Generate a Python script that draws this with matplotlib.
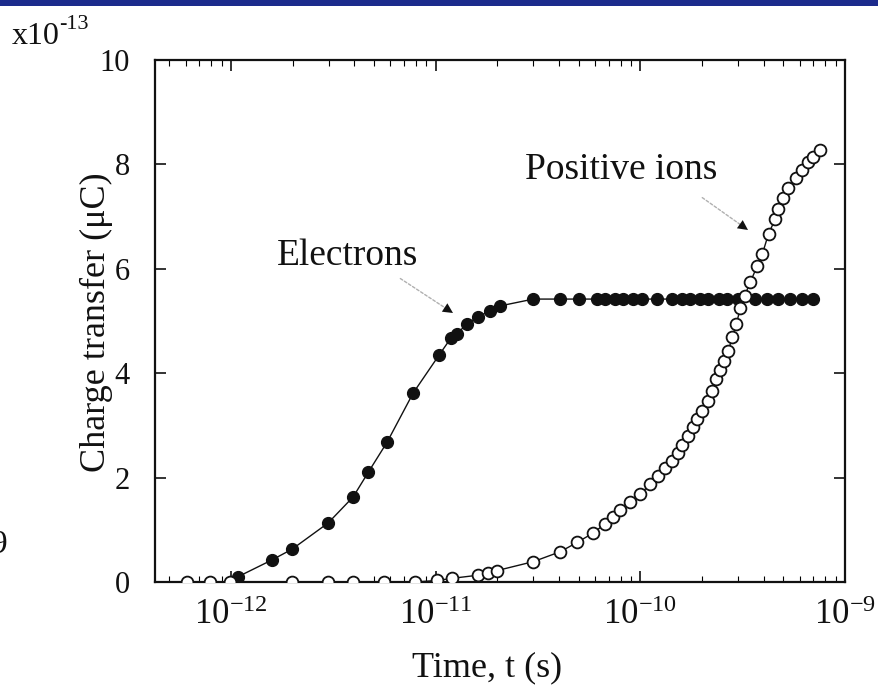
import matplotlib
matplotlib.use("Agg")
import matplotlib.pyplot as plt
from matplotlib.patches import Rectangle
from matplotlib.ticker import LogLocator, NullFormatter, FixedLocator

plt.rcParams['font.family'] = ['Liberation Serif', 'DejaVu Serif']
plt.rcParams['mathtext.fontset'] = 'custom'
plt.rcParams['mathtext.rm'] = 'Liberation Serif'
plt.rcParams['mathtext.it'] = 'Liberation Serif:italic'

# ---------------- data ----------------
electron_t = [1.08e-12, 1.58e-12, 1.99e-12, 2.98e-12, 3.95e-12, 4.68e-12, 5.79e-12,
              7.76e-12, 1.04e-11, 1.19e-11, 1.27e-11, 1.43e-11, 1.61e-11, 1.85e-11,
              2.07e-11, 3.0e-11, 4.06e-11, 5.03e-11, 6.17e-11, 6.75e-11, 7.55e-11,
              8.26e-11, 9.24e-11, 1.02e-10, 1.21e-10, 1.43e-10, 1.60e-10, 1.75e-10,
              1.96e-10, 2.15e-10, 2.41e-10, 2.66e-10, 3.01e-10, 3.65e-10, 4.18e-10,
              4.73e-10, 5.41e-10, 6.19e-10, 7.0e-10]
electron_q = [0.10, 0.42, 0.63, 1.13, 1.63, 2.10, 2.68, 3.62, 4.35, 4.68, 4.76, 4.95,
              5.08, 5.20, 5.29, 5.42, 5.42, 5.42, 5.42, 5.42, 5.42, 5.42, 5.42, 5.42,
              5.42, 5.42, 5.42, 5.42, 5.42, 5.42, 5.42, 5.42, 5.42, 5.42, 5.42, 5.42,
              5.42, 5.42, 5.42]

ion_t = [6.09e-13, 7.89e-13, 9.89e-13, 1.99e-12, 2.98e-12, 3.95e-12, 5.60e-12, 7.94e-12,
         1.02e-11, 1.20e-11, 1.61e-11, 1.81e-11, 2.00e-11, 3.00e-11, 4.06e-11, 4.92e-11,
         5.89e-11, 6.75e-11, 7.38e-11, 7.98e-11, 8.93e-11, 1.0e-10, 1.12e-10, 1.22e-10,
         1.32e-10, 1.43e-10, 1.52e-10, 1.60e-10, 1.70e-10, 1.80e-10, 1.90e-10, 2.01e-10,
         2.13e-10, 2.25e-10, 2.35e-10, 2.46e-10, 2.57e-10, 2.69e-10, 2.82e-10, 2.95e-10,
         3.08e-10, 3.23e-10, 3.45e-10, 3.73e-10, 3.95e-10, 4.23e-10, 4.57e-10, 4.73e-10,
         5.00e-10, 5.29e-10, 5.73e-10, 6.19e-10, 6.63e-10, 7.01e-10, 7.59e-10]
ion_q = [0.0, 0.0, 0.0, 0.0, 0.0, 0.0, 0.0, 0.0, 0.03, 0.07, 0.13, 0.18, 0.22, 0.39,
         0.58, 0.76, 0.94, 1.12, 1.25, 1.38, 1.53, 1.69, 1.87, 2.03, 2.19, 2.31, 2.47,
         2.63, 2.79, 2.96, 3.12, 3.28, 3.47, 3.66, 3.88, 4.06, 4.24, 4.43, 4.70, 4.95,
         5.25, 5.48, 5.75, 6.06, 6.29, 6.67, 6.96, 7.15, 7.35, 7.54, 7.73, 7.89, 8.05,
         8.15, 8.27]

x_ticks = [1e-12, 1e-11, 1e-10, 1e-9]
x_ticklabels = [r'$\mathregular{10^{-12}}$', r'$\mathregular{10^{-11}}$',
                r'$\mathregular{10^{-10}}$', r'$\mathregular{10^{-9}}$']
y_ticks = [0, 2, 4, 6, 8, 10]

# ---------------- figure ----------------
W, H = 879, 692
fig = plt.figure(figsize=(W / 100, H / 100), dpi=100)
fig.patch.set_facecolor('white')

def fp(x, y):
    return (x / W, 1 - y / H)

ax = fig.add_axes([155 / W, 1 - 582 / H, (845 - 155) / W, (582 - 60) / H])
ink = '#111111'

ax.plot(electron_t, electron_q, '-', color=ink, lw=1.0, marker='o', ms=8.5,
        mfc=ink, mec=ink, mew=1.0, zorder=3)
ax.plot(ion_t, ion_q, '-', color=ink, lw=1.0, marker='o', ms=8.5,
        mfc='white', mec=ink, mew=1.3, zorder=4)

ax.set_xscale('log')
ax.set_xlim(4.25e-13, 1.0e-9)
ax.set_ylim(0, 10)
ax.xaxis.set_major_locator(FixedLocator(x_ticks))
ax.set_xticklabels(x_ticklabels)
ax.xaxis.set_minor_locator(LogLocator(base=10, subs=range(2, 10), numticks=20))
ax.xaxis.set_minor_formatter(NullFormatter())
ax.set_yticks(y_ticks)
ax.set_yticklabels([str(v) for v in y_ticks])

ax.tick_params(axis='both', which='major', direction='in', length=8, width=1.2,
               top=True, right=True, colors=ink)
ax.tick_params(axis='y', which='major', pad=18, labelsize=22)
ax.tick_params(axis='x', which='major', pad=12, labelsize=25)
ax.tick_params(axis='x', which='minor', direction='in', length=4, width=0.8,
               top=True)
for s in ax.spines.values():
    s.set_linewidth(1.6)
    s.set_color(ink)

# axis titles
fig.text(*fp(96, 322), 'Charge transfer (μC)', fontsize=26, color=ink,
         rotation=90, ha='center', va='center')
fig.text(*fp(487, 668), 'Time, t (s)', fontsize=26, color=ink,
         ha='center', va='center')

# multiplier
fig.text(*fp(12, 44), 'x10', fontsize=23, color=ink, ha='left', va='baseline')
fig.text(*fp(59, 29), '-13', fontsize=16, color=ink, ha='left', va='baseline')

# annotations
fig.text(*fp(348, 256), 'Electrons', fontsize=27, color=ink, ha='center', va='center')
fig.text(*fp(621, 170), 'Positive ions', fontsize=27, color=ink, ha='center', va='center')

def arrow(tail, tip):
    ax.annotate('', xy=fp(*tip), xycoords='figure fraction',
                xytext=fp(*tail), textcoords='figure fraction',
                arrowprops=dict(arrowstyle='-', color='#b0b0b0', lw=1.0,
                                linestyle=(0, (2, 1.5))))
    nx = tip[0] - (tip[0] - tail[0]) * 0.25
    ny = tip[1] - (tip[1] - tail[1]) * 0.25
    ax.annotate('', xy=fp(*tip), xycoords='figure fraction',
                xytext=fp(nx, ny), textcoords='figure fraction',
                arrowprops=dict(arrowstyle='-|>', color=ink, lw=0.01,
                                mutation_scale=18, shrinkA=0, shrinkB=0))

arrow((398, 277), (453, 313))
arrow((700, 196), (748, 230))

# top blue band and stray glyph at left edge
fig.patches.append(Rectangle((0, 1 - 6 / H), 1, 6 / H, transform=fig.transFigure,
                             facecolor='#1c2b8c', edgecolor='none', zorder=10))
fig.text(*fp(-9, 545), '9', fontsize=24, color=ink, ha='left', va='center')

fig.savefig('out.png', dpi=100)
